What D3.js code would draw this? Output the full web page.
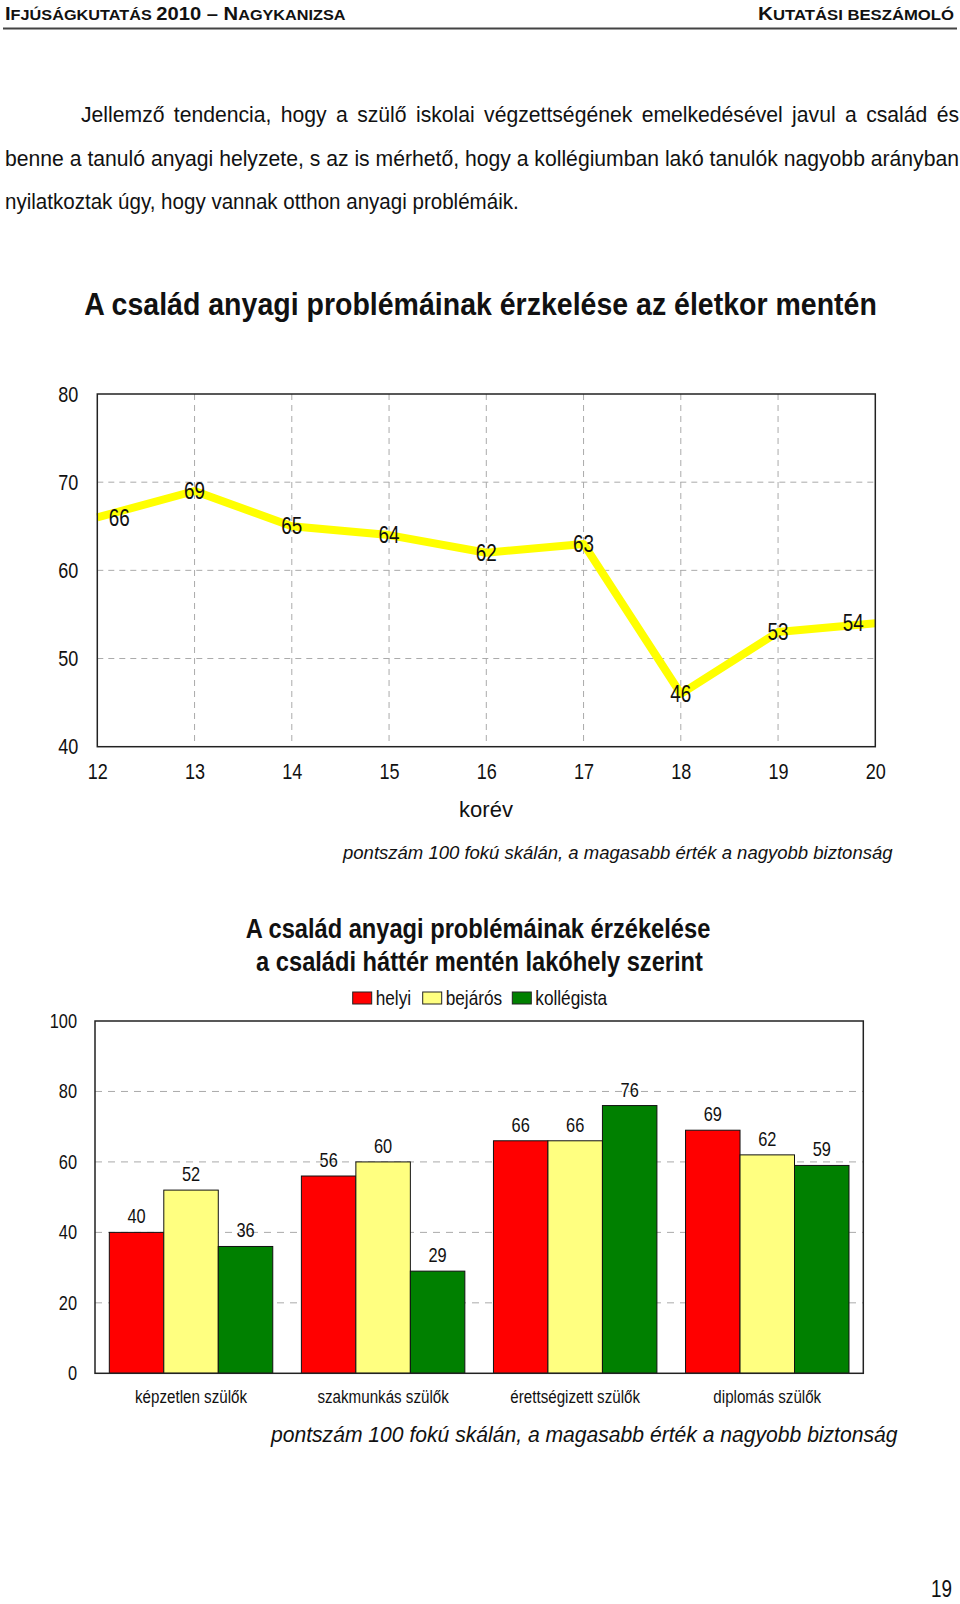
<!DOCTYPE html>
<html><head><meta charset="utf-8">
<script src="https://cdn.jsdelivr.net/npm/d3@7"></script>
<style>
html,body{margin:0;padding:0;background:#fff;}
svg{display:block;}
</style></head>
<body>
<script>
// ---- data ----
const ages = [12, 13, 14, 15, 16, 17, 18, 19, 20];
const ageScores = [66, 69, 65, 64, 62, 63, 46, 53, 54];
const lineYTicks = [40, 50, 60, 70, 80];

const parentGroups = ["képzetlen szülők", "szakmunkás szülők", "érettségizett szülők", "diplomás szülők"];
const residence = ["helyi", "bejárós", "kollégista"];
const helyi = [40, 56, 66, 69];
const bejaros = [52, 60, 66, 62];
const kollegista = [36, 29, 76, 59];
const barYTicks = [0, 20, 40, 60, 80, 100];

const paragraphLines = [
  "Jellemző tendencia, hogy a szülő iskolai végzettségének emelkedésével javul a család és",
  "benne a tanuló anyagi helyzete, s az is mérhető, hogy a kollégiumban lakó tanulók nagyobb arányban",
  "nyilatkoztak úgy, hogy vannak otthon anyagi problémáik."
];

const SANS = "'Liberation Sans',Arial,sans-serif";
const SX = 0.82; // narrow-face emulation

const svg = d3.select("body").append("svg").attr("width", 960).attr("height", 1604);

function ntext(parent, x, y, txt, size, anchor) {
  const g = parent.append("g").attr("transform", `translate(${x},${y}) scale(${SX},1)`);
  return g.append("text").attr("dy", "0.35em").attr("text-anchor", anchor || "start")
    .attr("font-family", SANS).attr("font-size", size).attr("fill", "#111").text(txt);
}
function fitText(parent, x, y, txt, size, anchor, width, opts) {
  opts = opts || {};
  const g = parent.append("g");
  const t = g.append("text").attr("dy", "0.35em").attr("text-anchor", anchor || "start")
    .attr("font-family", SANS).attr("font-size", size).attr("fill", "#111")
    .attr("font-weight", opts.weight || "normal").attr("font-style", opts.style || "normal").text(txt);
  const w = t.node().getComputedTextLength();
  g.attr("transform", `translate(${x},${y}) scale(${width / w},1)`);
  return t;
}
function narrowAxisText(sel, size) {
  sel.attr("font-family", SANS).attr("font-size", size).attr("fill", "#111");
  sel.each(function () {
    const t = d3.select(this);
    const x = +t.attr("x") || 0;
    t.attr("x", x / SX).attr("transform", `scale(${SX},1)`);
  });
}

// ---- header ----
function smallCaps(x, anchor, parts, width) {
  const g = svg.append("g");
  const t = g.append("text").attr("font-family", SANS).attr("font-weight", "bold").attr("fill", "#111")
    .attr("text-anchor", anchor);
  parts.forEach(([s, sz]) => t.append("tspan").attr("font-size", sz).text(s));
  const w = t.node().getComputedTextLength();
  g.attr("transform", `translate(${x},20) scale(${width / w},1)`);
}
smallCaps(5, "start", [["I",18],["FJÚSÁGKUTATÁS ",14.5],["2010 – ",18],["N",18],["AGYKANIZSA",14.5]], 341);
smallCaps(954, "end", [["K",18],["UTATÁSI BESZÁMOLÓ",14.5]], 196);
svg.append("line").attr("x1", 3).attr("x2", 957).attr("y1", 28.5).attr("y2", 28.5).attr("stroke", "#444").attr("stroke-width", 2);

// ---- paragraph ----
const PFS = 22;
const probe = svg.append("text").attr("font-family", SANS).attr("font-size", PFS).text(paragraphLines[1]);
const PSX = 954 / probe.node().getComputedTextLength();
probe.remove();
const pPos = [[81, 959, 114.6], [5, 959, 158.6]];
pPos.forEach(([x0, x1, yc], i) => {
  const line = paragraphLines[i];
  const g = svg.append("g").attr("transform", `translate(${x0},${yc}) scale(${PSX},1)`);
  const t = g.append("text").attr("dy", "0.35em").attr("font-family", SANS).attr("font-size", PFS).attr("fill", "#111");
  const words = line.split(" ");
  const spans = words.map(w => t.append("tspan").text(w));
  const widths = spans.map(s => s.node().getComputedTextLength());
  const avail = (x1 - x0) / PSX;
  const gap = (avail - d3.sum(widths)) / (words.length - 1);
  let cx = 0;
  spans.forEach((s, k) => { s.attr("x", cx); cx += widths[k] + gap; });
});
fitText(svg, 5, 201.6, paragraphLines[2], PFS, "start", 514);

// ---- line chart ----
const lx = d3.scaleLinear().domain([12, 20]).range([97.3, 875.3]);
const ly = d3.scaleLinear().domain([40, 80]).range([746.7, 394]);

fitText(svg, 480.5, 304, "A család anyagi problémáinak érzkelése az életkor mentén", 32, "middle", 793, { weight: "bold" });

const lg = svg.append("g");
lg.selectAll(".vg").data(ages.slice(1, -1)).join("line")
  .attr("x1", d => lx(d)).attr("x2", d => lx(d)).attr("y1", ly(80)).attr("y2", ly(40))
  .attr("stroke", "#aaa").attr("stroke-width", 1).attr("stroke-dasharray", "6,5");
lg.selectAll(".hg").data(lineYTicks.slice(1, -1)).join("line")
  .attr("x1", lx(12)).attr("x2", lx(20)).attr("y1", d => ly(d)).attr("y2", d => ly(d))
  .attr("stroke", "#aaa").attr("stroke-width", 1).attr("stroke-dasharray", "6,5");

const gy = lg.append("g").attr("transform", `translate(${lx(12)},0)`)
  .call(d3.axisLeft(ly).tickValues(lineYTicks).tickSize(0).tickPadding(19));
gy.select(".domain").remove();
narrowAxisText(gy.selectAll("text"), 22);
const gx = lg.append("g").attr("transform", `translate(0,${ly(40)})`)
  .call(d3.axisBottom(lx).tickValues(ages).tickFormat(d3.format("d")).tickSize(0).tickPadding(17));
gx.select(".domain").remove();
narrowAxisText(gx.selectAll("text"), 22);

const pts = ages.map((a, i) => [a, ageScores[i]]);
lg.append("path").datum(pts)
  .attr("d", d3.line().x(d => lx(d[0])).y(d => ly(d[1])))
  .attr("fill", "none").attr("stroke", "#ffff00").attr("stroke-width", 8).attr("stroke-linejoin", "round");
lg.append("rect").attr("x", lx(12)).attr("y", ly(80)).attr("width", lx(20) - lx(12)).attr("height", ly(40) - ly(80))
  .attr("fill", "none").attr("stroke", "#222").attr("stroke-width", 1.5);
pts.forEach((d, i) => {
  ntext(lg, lx(d[0]) + (i === 0 ? 22 : i === pts.length - 1 ? -22 : 0), ly(d[1]), d[1], 23, "middle");
});

svg.append("text").attr("x", 486).attr("y", 809).attr("dy", "0.35em").attr("text-anchor", "middle")
  .attr("font-family", SANS).attr("font-size", 22).attr("fill", "#111").text("korév");
fitText(svg, 343, 853, "pontszám 100 fokú skálán, a magasabb érték a nagyobb biztonság", 18, "start", 550, { style: "italic" });

// ---- bar chart ----
const bx = d3.scaleBand().domain(parentGroups).range([95, 863.3]).paddingInner(0.149).paddingOuter(0.0745);
const bx1 = d3.scaleBand().domain(residence).range([0, bx.bandwidth()]).padding(0);
const by = d3.scaleLinear().domain([0, 100]).range([1373.3, 1021]);
const colors = { "helyi": "#ff0000", "bejárós": "#ffff80", "kollégista": "#008000" };
const series = { "helyi": helyi, "bejárós": bejaros, "kollégista": kollegista };

fitText(svg, 478, 928, "A család anyagi problémáinak érzékelése", 28, "middle", 465, { weight: "bold" });
fitText(svg, 479.5, 961, "a családi háttér mentén lakóhely szerint", 28, "middle", 447, { weight: "bold" });

const legX = [352.7, 422.7, 512.3];
residence.forEach((r, i) => {
  svg.append("rect").attr("x", legX[i]).attr("y", 992).attr("width", 19).attr("height", 12)
    .attr("fill", colors[r]).attr("stroke", "#222").attr("stroke-width", 1);
  ntext(svg, legX[i] + 23, 998, r, 21, "start");
});

const bg = svg.append("g");
bg.selectAll(".bgrid").data([20, 40, 60, 80]).join("line")
  .attr("x1", 95).attr("x2", 863.3).attr("y1", d => by(d)).attr("y2", d => by(d))
  .attr("stroke", "#aaa").attr("stroke-width", 1).attr("stroke-dasharray", "7,6");

const bgy = bg.append("g").attr("transform", "translate(95,0)")
  .call(d3.axisLeft(by).tickValues(barYTicks).tickSize(0).tickPadding(18));
bgy.select(".domain").remove();
narrowAxisText(bgy.selectAll("text"), 20);

const groups = bg.selectAll(".grp").data(parentGroups).join("g")
  .attr("transform", d => `translate(${bx(d)},0)`);
groups.selectAll("rect").data((d, gi) => residence.map(r => ({ r, v: series[r][gi] }))).join("rect")
  .attr("x", d => bx1(d.r)).attr("width", bx1.bandwidth())
  .attr("y", d => by(d.v)).attr("height", d => by(0) - by(d.v))
  .attr("fill", d => colors[d.r]).attr("stroke", "#111").attr("stroke-width", 1);
groups.each(function (d, gi) {
  const gsel = d3.select(this);
  residence.forEach(r => {
    const v = series[r][gi];
    ntext(gsel, bx1(r) + bx1.bandwidth() / 2, by(v) - 16, v, 20, "middle");
  });
});

bg.append("rect").attr("x", 95).attr("y", by(100)).attr("width", 863.3 - 95).attr("height", by(0) - by(100))
  .attr("fill", "none").attr("stroke", "#222").attr("stroke-width", 1.5);

const bgx = bg.append("g").attr("transform", `translate(0,${by(0)})`)
  .call(d3.axisBottom(bx).tickSize(0).tickPadding(17));
bgx.select(".domain").remove();
narrowAxisText(bgx.selectAll("text"), 18.5);

fitText(svg, 271, 1434, "pontszám 100 fokú skálán, a magasabb érték a nagyobb biztonság", 22, "start", 627, { style: "italic" });

ntext(svg, 952, 1589, "19", 23, "end");
</script>
</body></html>
